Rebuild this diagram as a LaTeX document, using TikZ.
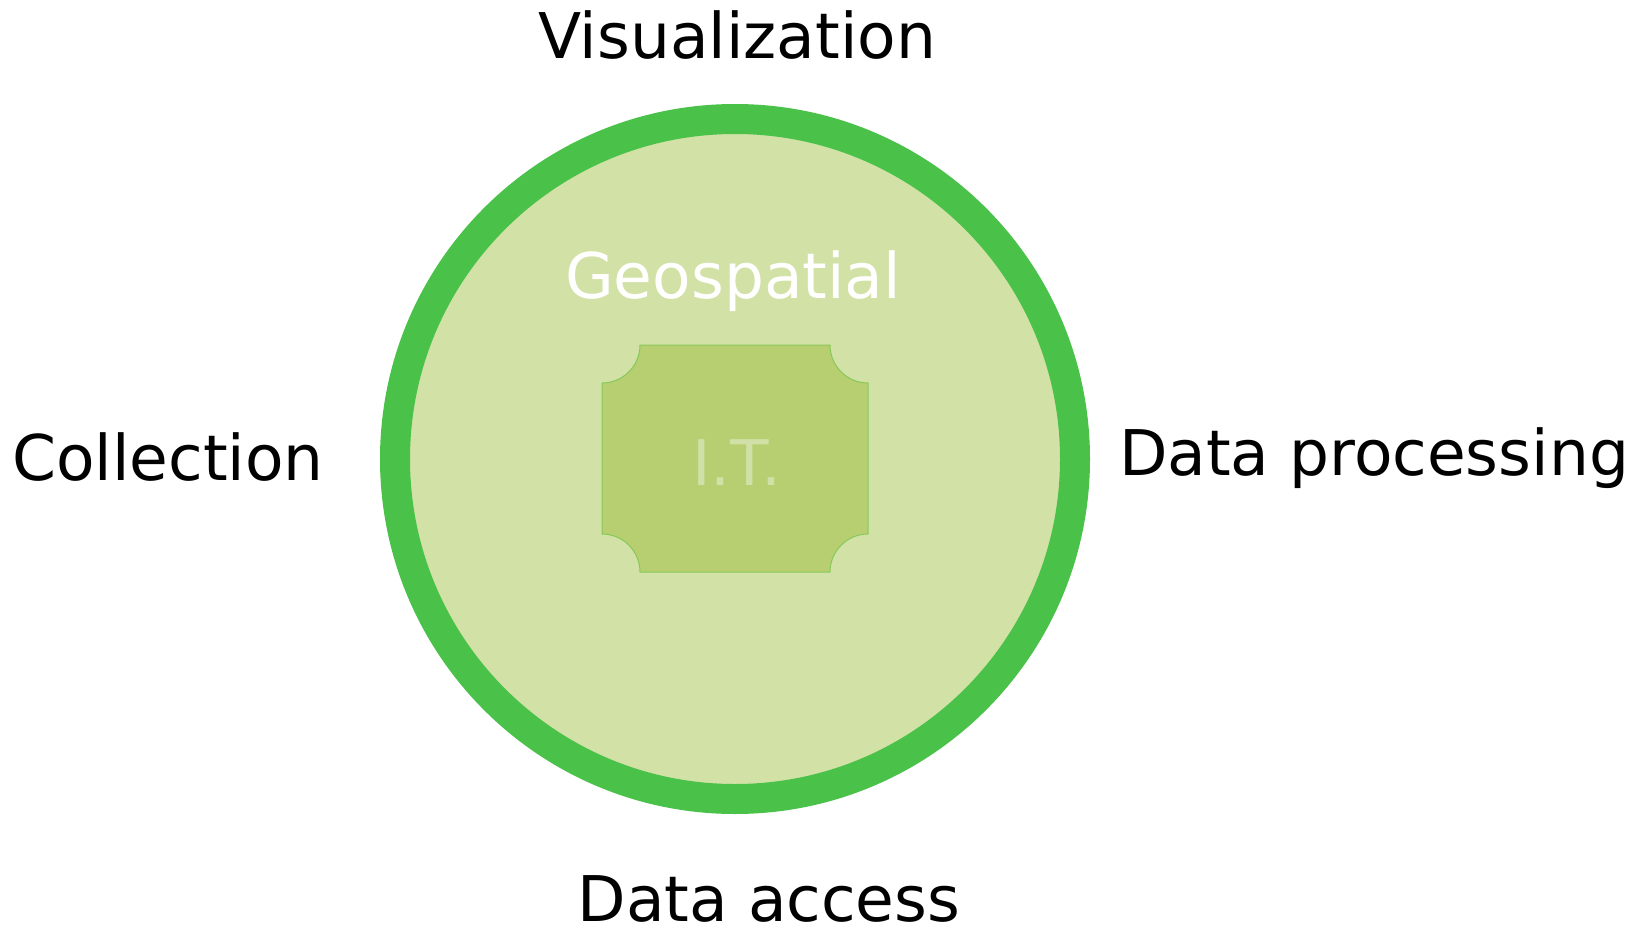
\documentclass[tikz,border=0pt]{standalone}
\usepackage{fontspec}
\setmainfont{DejaVu Sans}
\definecolor{ringgreen}{HTML}{4AC24A}
\definecolor{geofill}{HTML}{D2E1A6}
\definecolor{itfill}{HTML}{B7CF70}
\definecolor{itedge}{HTML}{86C95A}
\definecolor{ittext}{HTML}{D0E0A6}
\tikzset{
  label text/.style={anchor=base, inner sep=0pt, font=\fontsize{63}{75}\selectfont},
}
\begin{document}
\begin{tikzpicture}[x=1pt,y=-1pt]
\useasboundingbox [fill=white] (0,0) rectangle (1647,929);
% geospatial ring
\node (geo) [circle, draw=ringgreen, line width=30pt, fill=geofill, minimum size=680pt, inner sep=0pt] at (735,459) {};
% I.T. plate with hollow corners
\draw [itedge, fill=itfill, line width=1pt] (640,345) -- (830,345)
  arc (180:90:38) -- (868,534)
  arc (270:180:38) -- (640,572)
  arc (360:270:38) -- (602,383)
  arc (90:0:38) -- cycle;
\node (it) [label text, text=ittext] at (737,485) {I.T.};
\node (geotext) [label text, text=white] at (733,298) {Geospatial};
% surrounding steps
\node (vis) [label text] at (737,58) {Visualization};
\node (coll) [label text] at (168,480) {Collection};
\node (proc) [label text] at (1374,475) {Data processing};
\node (acc) [label text] at (769,921) {Data access};
\end{tikzpicture}
\end{document}
